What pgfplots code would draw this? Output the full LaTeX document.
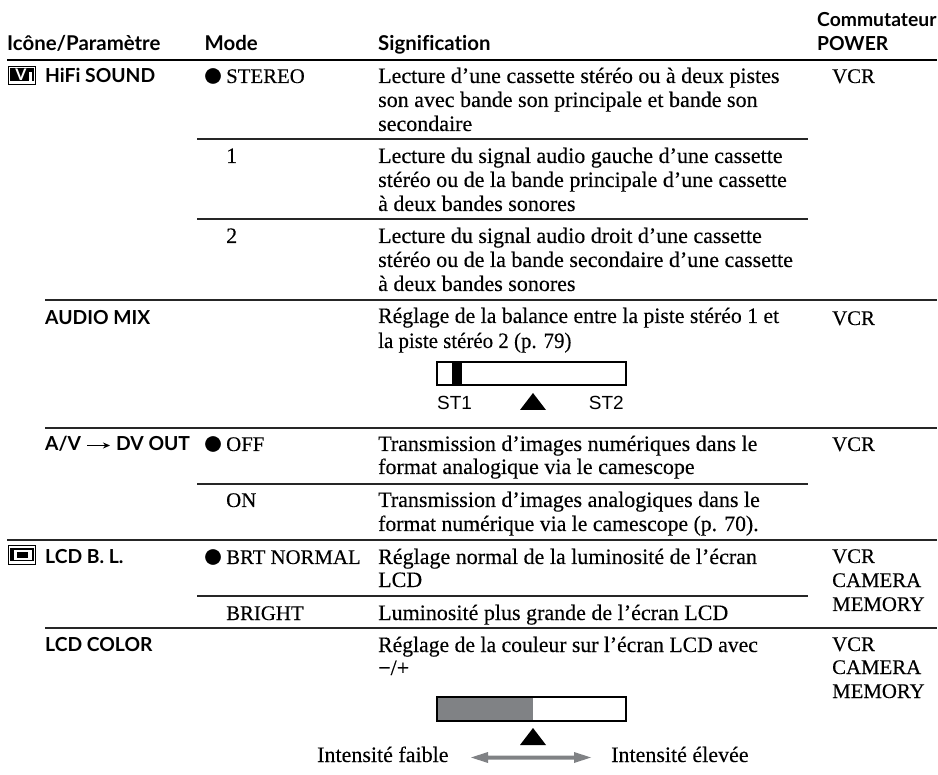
\documentclass[border=0pt]{standalone}
\usepackage{graphicx}
\usepackage{pgfplots}
\pgfplotsset{compat=1.18}
\usetikzlibrary{arrows.meta}
\usepackage{fontspec}
\setmainfont{Liberation Serif}[RawFeature={embolden=0.25}]
\newfontfamily\hd{Lato}[Ligatures=NoCommon]
\newfontfamily\sns{Liberation Sans}
\tikzset{
 tb/.style={anchor=base west,inner sep=0pt,font=\fontsize{22}{22}\selectfont,text=black},
 tc/.style={anchor=base west,inner sep=0pt,font=\fontsize{20.8}{20.8}\selectfont,text=black},
 hb/.style={anchor=base west,inner sep=0pt,font=\fontsize{19.3}{19.3}\selectfont\hd\bfseries,text=black},
 hh/.style={anchor=base west,inner sep=0pt,font=\fontsize{20.4}{20.4}\selectfont\hd\bfseries,text=black},
 rule/.style={draw=black!85,line width=1.3pt},
}
\begin{document}
\begin{tikzpicture}
\path[use as bounding box] (0,0) rectangle (938pt,775pt);
\begin{axis}[scale only axis,width=938pt,height=775pt,xmin=0,xmax=938,ymin=0,ymax=775,y dir=reverse,
 hide axis,clip=false]
% rules
\addplot[draw=black,line width=2pt] coordinates {(7,60)(937,60)};
\addplot[rule] coordinates {(197,139)(808,139)};
\addplot[rule] coordinates {(197,219)(808,219)};
\addplot[rule] coordinates {(45,300)(937,300)};
\addplot[rule] coordinates {(45,428)(937,428)};
\addplot[rule] coordinates {(197,484)(808,484)};
\addplot[rule] coordinates {(7,540)(937,540)};
\addplot[rule] coordinates {(197,596)(808,596)};
\addplot[rule] coordinates {(45,628)(937,628)};
% headers
\node[hh] at (axis cs:7,51) {Icône/Paramètre};
\node[hh] at (axis cs:204.5,51) {Mode};
\node[hh] at (axis cs:378,51) {Signification};
\node[hb] at (axis cs:817,27) {Commutateur};
\node[hb] at (axis cs:817,51) {POWER};
% first col
\node[hb] at (axis cs:45,83) {HiFi SOUND};
\node[hb] at (axis cs:45,325) {AUDIO MIX};
\node[hb] at (axis cs:45,451) {A/V};
\addplot[draw=black,line width=1pt,-{Stealth[length=7pt,width=6pt]}] coordinates {(87,445.5)(110,445.5)};
\node[hb] at (axis cs:116,451) {DV OUT};
\node[hb] at (axis cs:45,564) {LCD B. L.};
\node[hb] at (axis cs:45,651) {LCD COLOR};
% bullets
\addplot[only marks,mark=*,mark size=7.6pt,black] coordinates {(213,76)(213,444)(213,557)};
% mode
\node[tc] at (axis cs:226,83) {STEREO};
\node[tb] at (axis cs:226,163) {1};
\node[tb] at (axis cs:226,243) {2};
\node[tc] at (axis cs:226,451) {OFF};
\node[tc] at (axis cs:226,507) {ON};
\node[tc] at (axis cs:226,564) {BRT NORMAL};
\node[tc] at (axis cs:226,620) {BRIGHT};
% signification
\node[tb] at (axis cs:378,83) {Lecture d’une cassette stéréo ou à deux pistes};
\node[tb] at (axis cs:378,107) {son avec bande son principale et bande son};
\node[tb] at (axis cs:378,131) {secondaire};
\node[tb] at (axis cs:378,163) {Lecture du signal audio gauche d’une cassette};
\node[tb] at (axis cs:378,187) {stéréo ou de la bande principale d’une cassette};
\node[tb] at (axis cs:378,211) {à deux bandes sonores};
\node[tb] at (axis cs:378,243) {Lecture du signal audio droit d’une cassette};
\node[tb] at (axis cs:378,267) {stéréo ou de la bande secondaire d’une cassette};
\node[tb] at (axis cs:378,291) {à deux bandes sonores};
\node[tb] at (axis cs:378,323) {\scalebox{.987}[1]{Réglage de la balance entre la piste stéréo 1 et}};
\node[tb] at (axis cs:378,348) {\scalebox{.95}[1]{la piste stéréo 2 (p. 79)}};
\node[tb] at (axis cs:378,451) {Transmission d’images numériques dans le};
\node[tb] at (axis cs:378,474) {format analogique via le camescope};
\node[tb] at (axis cs:378,507) {Transmission d’images analogiques dans le};
\node[tb] at (axis cs:378,531) {\scalebox{.987}[1]{format numérique via le camescope (p. 70).}};
\node[tb] at (axis cs:378,564) {Réglage normal de la luminosité de l’écran};
\node[tb] at (axis cs:378,587) {LCD};
\node[tb] at (axis cs:378,620) {Luminosité plus grande de l’écran LCD};
\node[tb] at (axis cs:378,652) {\scalebox{.985}[1]{Réglage de la couleur sur l’écran LCD avec}};
\node[tb] at (axis cs:378,675) {−/+};
% power
\node[tc] at (axis cs:832,83) {VCR};
\node[tc] at (axis cs:832,325) {VCR};
\node[tc] at (axis cs:832,451) {VCR};
\node[tc] at (axis cs:832,563) {VCR};
\node[tc] at (axis cs:832,587) {CAMERA};
\node[tc] at (axis cs:832,611) {MEMORY};
\node[tc] at (axis cs:832,651) {VCR};
\node[tc] at (axis cs:832,674) {CAMERA};
\node[tc] at (axis cs:832,698) {MEMORY};
% slider 1
\addplot[fill=black,draw=none] coordinates {(452,362)(462,362)(462,385)(452,385)} --cycle;
\addplot[draw=black,line width=1.3pt] coordinates {(437,362)(626,362)(626,385)(437,385)} --cycle;
\addplot[fill=black,draw=none] coordinates {(520,410)(546,410)(533,393)} --cycle;
\node[anchor=base west,inner sep=0pt,font=\fontsize{19}{19}\selectfont\sns] at (axis cs:437,410) {ST1};
\node[anchor=base east,inner sep=0pt,font=\fontsize{19}{19}\selectfont\sns] at (axis cs:624,410) {ST2};
% slider 2
\addplot[fill={rgb,255:red,128;green,130;blue,133},draw=none] coordinates {(437,697)(533,697)(533,721)(437,721)} --cycle;
\addplot[draw=black,line width=1.3pt] coordinates {(437,697)(626,697)(626,721)(437,721)} --cycle;
\addplot[fill=black,draw=none] coordinates {(520,745)(546,745)(533,728)} --cycle;
\addplot[fill={rgb,255:red,128;green,130;blue,133},draw=none] coordinates {(471,757.5)(488,752)(488,755.5)(574,755.5)(574,752)(591,757.5)(574,763)(574,759.5)(488,759.5)(488,763)} --cycle;
\node[tb] at (axis cs:317,762) {Intensité faible};
\node[tb] at (axis cs:611,762) {Intensité élevée};
% icons
\addplot[draw=black,line width=0.9pt] coordinates {(8.5,66.5)(35,66.5)(35,84.5)(8.5,84.5)} --cycle;
\addplot[fill=black,draw=none] coordinates {(10,68)(33.5,68)(33.5,81)(10,81)} --cycle;
\node[anchor=base,inner sep=0pt,text=white,font=\fontsize{16}{16}\selectfont\hd\bfseries] at (axis cs:21,80.5) {V};
\addplot[fill=white,draw=none] coordinates {(29,72)(31.5,72)(31.5,81)(29,81)} --cycle;
\addplot[draw=black,line width=0.9pt] coordinates {(8.5,545.5)(35,545.5)(35,564)(8.5,564)} --cycle;
\addplot[fill=black,draw=none] coordinates {(10,548)(33.5,548)(33.5,561)(10,561)} --cycle;
\addplot[fill=white,draw=none] coordinates {(14,550)(31.5,550)(31.5,560)(14,560)} --cycle;
\addplot[fill=black,draw=none] coordinates {(17,552)(28,552)(28,558)(17,558)} --cycle;
\end{axis}
\end{tikzpicture}
\end{document}
